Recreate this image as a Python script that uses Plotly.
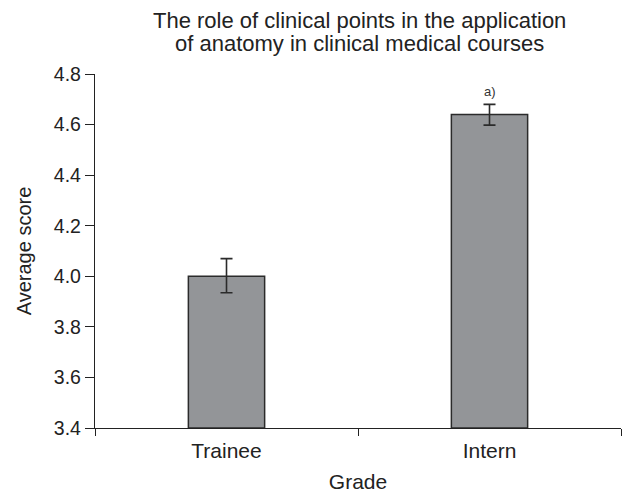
import plotly.graph_objects as go

categories = ["Trainee", "Intern"]
means = [4.00, 4.64]
err_plus = [0.07, 0.04]
err_minus = [0.065, 0.042]
sig_labels = ["", "a)"]
y_ticks = [3.4, 3.6, 3.8, 4.0, 4.2, 4.4, 4.6, 4.8]
title_lines = ["The role of clinical points in the application",
               "of anatomy in clinical medical courses"]

font = "Liberation Sans, Arial, sans-serif"

fig = go.Figure()
fig.add_trace(go.Bar(
    x=categories, y=[m - 3.4 for m in means], base=3.4,
    width=0.29,
    marker=dict(color="#939598", line=dict(color="#2b2b2b", width=1.5)),
    error_y=dict(type="data", symmetric=False, array=err_plus, arrayminus=err_minus,
                 color="#2b2b2b", thickness=1.6, width=6),
    showlegend=False,
))

for c, m, e, s in zip(categories, means, err_plus, sig_labels):
    if s:
        fig.add_annotation(x=c, y=m + e, text=s, showarrow=False, yshift=13,
                           font=dict(size=13, color="#333", family=font))

# title lines as paper-anchored annotations
for line, ypos in zip(title_lines, [1.1525, 1.0875]):
    fig.add_annotation(xref="paper", yref="paper", x=0.502, y=ypos, text=line,
                       showarrow=False, xanchor="center", yanchor="middle",
                       font=dict(size=22, color="#222", family=font))

fig.update_layout(
    width=629, height=493,
    margin=dict(l=95, r=8, t=74, b=65),
    paper_bgcolor="white", plot_bgcolor="white",
    font=dict(family=font, color="#222"),
)
fig.update_xaxes(
    type="category", range=[-0.5, 1.5], tickson="boundaries",
    showline=True, linecolor="#222", linewidth=1.3,
    ticks="outside", ticklen=7, tickcolor="#222", tickwidth=1.3,
    tickfont=dict(size=21, color="#222"), ticklabelstandoff=4,
    title=dict(text="Grade", font=dict(size=21, color="#222"), standoff=16),
    showgrid=False, zeroline=False, automargin=False,
)
fig.update_yaxes(
    range=[3.4, 4.8], tickvals=y_ticks, ticktext=[f"{v:.1f}" for v in y_ticks],
    showline=True, linecolor="#222", linewidth=1.3,
    ticks="outside", ticklen=9, tickcolor="#222", tickwidth=1.3,
    tickfont=dict(size=19.5, color="#222"),
    title=dict(text="Average score", font=dict(size=20, color="#222"), standoff=16),
    showgrid=False, zeroline=False, automargin=False,
)

fig.write_html("out.html", config={"displayModeBar": False},
               post_script="document.body.style.margin='0';")
